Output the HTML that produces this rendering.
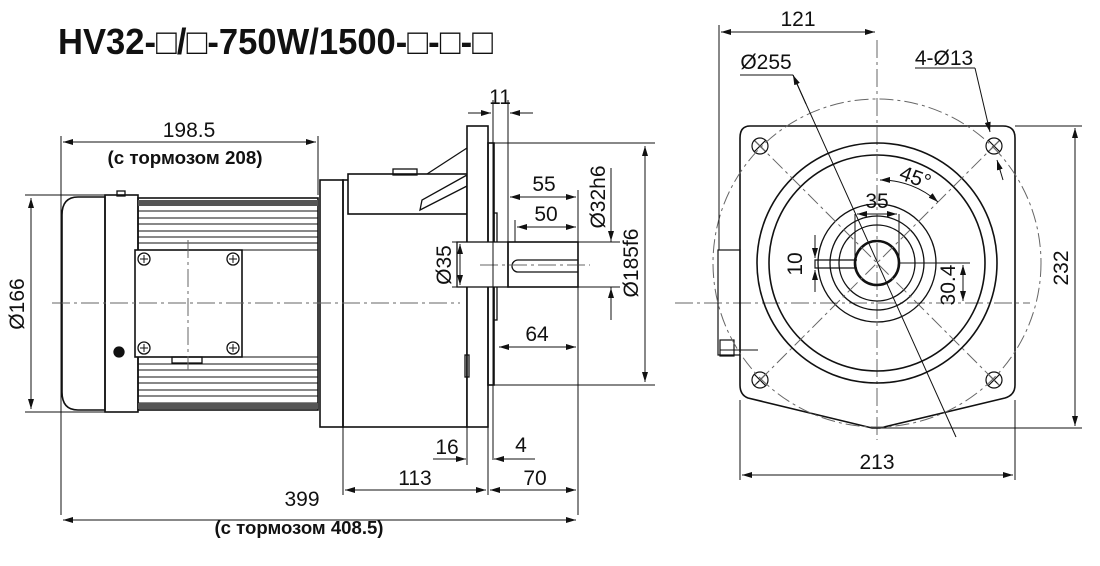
<!DOCTYPE html>
<html><head><meta charset="utf-8"><style>
html,body{margin:0;padding:0;background:#fff}
svg{display:block}
text{font-family:"Liberation Sans Narrow","Liberation Sans",Arial,sans-serif;fill:#111}
.t{font-size:21px}
.b{font-size:18px;font-weight:bold}
</style></head><body>
<svg width="1100" height="566" viewBox="0 0 1100 566" xmlns="http://www.w3.org/2000/svg">
<defs>
<marker id="a" viewBox="0 0 10 6" refX="10" refY="3" markerWidth="10" markerHeight="6" orient="auto-start-reverse" markerUnits="userSpaceOnUse"><path d="M0,0 L10,3 L0,6 z" fill="#111"/></marker>
</defs>
<text x="58" y="54" font-size="36" font-weight="bold" textLength="435" lengthAdjust="spacingAndGlyphs" style="font-family:'Liberation Sans',Arial,sans-serif">HV32-□/□-750W/1500-□-□-□</text>

<g stroke="#111" fill="none" stroke-width="1.3">
<path d="M105,197 L78,197 Q62,197 62,215 L62,392 Q62,410 78,410 L105,410 Z" stroke-width="1.6"/>
<rect x="105" y="195" width="33" height="217" stroke-width="1.6"/>
<rect x="117" y="191" width="8" height="5"/>
<rect x="138" y="198" width="180" height="212" stroke-width="1.6"/>
<g stroke-width="1">
<line x1="138" y1="205" x2="318" y2="205"/><line x1="138" y1="211" x2="318" y2="211"/><line x1="138" y1="218" x2="318" y2="218"/><line x1="138" y1="224" x2="318" y2="224"/><line x1="138" y1="231" x2="318" y2="231"/><line x1="138" y1="237" x2="318" y2="237"/><line x1="138" y1="243" x2="318" y2="243"/><line x1="138" y1="250" x2="318" y2="250"/>
<line x1="242" y1="357" x2="318" y2="357"/><line x1="138" y1="364" x2="318" y2="364"/><line x1="138" y1="370" x2="318" y2="370"/><line x1="138" y1="377" x2="318" y2="377"/><line x1="138" y1="383" x2="318" y2="383"/><line x1="138" y1="390" x2="318" y2="390"/><line x1="138" y1="396" x2="318" y2="396"/><line x1="138" y1="403" x2="318" y2="403"/>
</g>
<rect x="138" y="200" width="180" height="6" fill="#555" stroke="none"/>
<rect x="138" y="403" width="180" height="6" fill="#555" stroke="none"/>
<rect x="135" y="250" width="107" height="107" fill="#fff" stroke-width="1.6"/>
<rect x="172" y="357" width="30" height="6"/>
<circle cx="144" cy="259" r="6"/><circle cx="233" cy="259" r="6"/><circle cx="144" cy="348" r="6"/><circle cx="233" cy="348" r="6"/>
<path d="M140,259 h8 M144,255 v8 M229,259 h8 M233,255 v8 M140,348 h8 M144,344 v8 M229,348 h8 M233,344 v8" stroke-width="1"/>
<circle cx="119" cy="352" r="5" fill="#111"/>
<rect x="320" y="180" width="23" height="247" stroke-width="1.6"/>
<rect x="343" y="180" width="124" height="247" stroke-width="1.6"/>
<rect x="348" y="174" width="119" height="40" fill="#fff" stroke-width="1.6"/>
<rect x="393" y="169" width="24" height="6"/>
<line x1="427" y1="174" x2="467" y2="148"/>
<path d="M467,175 L422,200 L420,210 L467,186"/>
<rect x="467" y="126" width="21" height="301" stroke-width="1.6" fill="#fff"/>
<rect x="488" y="143" width="6" height="242" stroke-width="1.6"/>
<rect x="494" y="213" width="3" height="107"/>
<rect x="465" y="355" width="4" height="22"/>
<rect x="457" y="242" width="51" height="45" fill="#fff"/>
<rect x="508" y="242" width="70" height="45" stroke-width="1.6"/>
<path d="M578,260 L518,260 A6,6 0 0 0 518,272 L578,272"/>
</g>
<g stroke="#666" stroke-width="1" stroke-dasharray="18,4,3,4" fill="none">
<line x1="52" y1="303" x2="460" y2="303"/>
<line x1="188" y1="240" x2="188" y2="370"/>
<line x1="480" y1="265" x2="590" y2="265"/>
<line x1="675" y1="303" x2="1030" y2="303"/>
<line x1="877" y1="40" x2="877" y2="440"/>
</g>

<g stroke="#111" stroke-width="1" fill="none">
<line x1="61" y1="136" x2="61" y2="515"/>
<line x1="318" y1="136" x2="318" y2="195"/>
<line x1="63" y1="142" x2="316" y2="142" marker-start="url(#a)" marker-end="url(#a)"/>
<line x1="25" y1="195" x2="105" y2="195"/><line x1="25" y1="412" x2="105" y2="412"/>
<line x1="31" y1="198" x2="31" y2="409" marker-start="url(#a)" marker-end="url(#a)"/>
<line x1="493" y1="100" x2="493" y2="460"/><line x1="508" y1="100" x2="508" y2="242"/>
<line x1="468" y1="113" x2="491" y2="113" marker-end="url(#a)"/><line x1="533" y1="113" x2="510" y2="113" marker-end="url(#a)"/>
<line x1="578" y1="190" x2="578" y2="515"/><line x1="515" y1="220" x2="515" y2="242"/>
<line x1="510" y1="197" x2="576" y2="197" marker-start="url(#a)" marker-end="url(#a)"/>
<line x1="517" y1="227" x2="576" y2="227" marker-start="url(#a)" marker-end="url(#a)"/>
<line x1="499" y1="347" x2="576" y2="347" marker-start="url(#a)" marker-end="url(#a)"/>
<line x1="494" y1="143" x2="655" y2="143"/><line x1="494" y1="385" x2="655" y2="385"/>
<line x1="645" y1="146" x2="645" y2="382" marker-start="url(#a)" marker-end="url(#a)"/>
<line x1="578" y1="242" x2="620" y2="242"/><line x1="578" y1="287" x2="620" y2="287"/>
<line x1="611" y1="168" x2="611" y2="242" /><line x1="611" y1="225" x2="611" y2="241" marker-end="url(#a)"/>
<line x1="611" y1="320" x2="611" y2="287"/><line x1="611" y1="305" x2="611" y2="288" marker-end="url(#a)"/>
<line x1="452" y1="242" x2="457" y2="242"/><line x1="452" y1="287" x2="457" y2="287"/>
<line x1="460" y1="244" x2="460" y2="285" marker-start="url(#a)" marker-end="url(#a)"/>
<line x1="343" y1="427" x2="343" y2="495"/><line x1="467" y1="427" x2="467" y2="465"/><line x1="488" y1="427" x2="488" y2="495"/>
<line x1="433" y1="459" x2="466" y2="459" marker-end="url(#a)"/>
<line x1="535" y1="459" x2="494" y2="459" marker-end="url(#a)"/>
<line x1="345" y1="490" x2="486" y2="490" marker-start="url(#a)" marker-end="url(#a)"/>
<line x1="490" y1="490" x2="576" y2="490" marker-start="url(#a)" marker-end="url(#a)"/>
<line x1="63" y1="520" x2="576" y2="520" marker-start="url(#a)" marker-end="url(#a)"/>
</g>
<text class="t" x="189" y="137" text-anchor="middle">198.5</text>
<text class="b" x="185" y="164" text-anchor="middle" textLength="155" lengthAdjust="spacingAndGlyphs">(с тормозом 208)</text>
<text class="t" x="500" y="104" text-anchor="middle">11</text>
<text class="t" x="544" y="191" text-anchor="middle">55</text>
<text class="t" x="546" y="221" text-anchor="middle">50</text>
<text class="t" x="537" y="341" text-anchor="middle">64</text>
<text class="t" x="447" y="454" text-anchor="middle">16</text>
<text class="t" x="521" y="452" text-anchor="middle">4</text>
<text class="t" x="415" y="485" text-anchor="middle">113</text>
<text class="t" x="535" y="485" text-anchor="middle">70</text>
<text class="t" x="302" y="506" text-anchor="middle">399</text>
<text class="b" x="299" y="534" text-anchor="middle" textLength="169" lengthAdjust="spacingAndGlyphs">(с тормозом 408.5)</text>
<text class="t" transform="translate(24,304) rotate(-90)" text-anchor="middle">Ø166</text>
<text class="t" transform="translate(451,265) rotate(-90)" text-anchor="middle">Ø35</text>
<text class="t" transform="translate(605,197) rotate(-90)" text-anchor="middle">Ø32h6</text>
<text class="t" transform="translate(638,263) rotate(-90)" text-anchor="middle">Ø185f6</text>

<g stroke="#111" fill="none" stroke-width="1.6">
<path d="M750,126 L1003,126 Q1015,126 1015,138 L1015,385 Q1015,395 1005,398 L880,428 L872,428 L748,398 Q740,395 740,385 L740,138 Q740,126 750,126 Z"/>
<circle cx="877" cy="263" r="120"/>
<circle cx="877" cy="263" r="108"/>
<circle cx="877" cy="263" r="59" stroke-width="1.3"/>
<circle cx="877" cy="263" r="47" stroke-width="1.3"/>
<circle cx="877" cy="263" r="38" stroke-width="1.3"/>
<circle cx="877" cy="263" r="22" stroke-width="2.6"/>
<g stroke-width="1.2">
<circle cx="760" cy="146" r="8"/><circle cx="994" cy="146" r="8"/><circle cx="760" cy="380" r="8"/><circle cx="994" cy="380" r="8"/>
<path d="M754,140 l12,12 M766,140 l-12,12 M988,140 l12,12 M1000,140 l-12,12 M754,374 l12,12 M766,374 l-12,12 M988,374 l12,12 M1000,374 l-12,12"/>
</g>
<path d="M857,260 L815,260 L815,268 L857,268" stroke-width="1.2"/>
<rect x="718" y="250" width="22" height="105" stroke-width="1.2"/>
<rect x="720" y="340" width="14" height="16" stroke-width="1.2"/>
</g>
<g stroke="#666" stroke-width="1" stroke-dasharray="14,4,3,4" fill="none">
<circle cx="877" cy="263" r="164"/>
<line x1="755" y1="141" x2="999" y2="385"/>
<line x1="999" y1="141" x2="755" y2="385"/>
</g>
<g stroke="#111" stroke-width="1" fill="none">
<line x1="719" y1="25" x2="719" y2="250"/>
<line x1="721" y1="32" x2="875" y2="32" marker-start="url(#a)" marker-end="url(#a)"/>
<line x1="740" y1="75" x2="793" y2="75"/>
<line x1="793" y1="75" x2="956" y2="437"/>
<line x1="793" y1="75" x2="806" y2="104" marker-start="url(#a)"/>
<line x1="915" y1="68" x2="975" y2="68"/>
<line x1="975" y1="68" x2="990" y2="132" marker-end="url(#a)"/>
<line x1="1003" y1="180" x2="997" y2="160" marker-end="url(#a)"/>
<path d="M880,180 A86,86 0 0 1 938,202" marker-start="url(#a)" marker-end="url(#a)"/>
<line x1="855" y1="214" x2="855" y2="260"/><line x1="899" y1="214" x2="899" y2="260"/>
<line x1="857" y1="214" x2="897" y2="214" marker-start="url(#a)" marker-end="url(#a)"/>
<line x1="815" y1="235" x2="815" y2="258" marker-end="url(#a)"/>
<line x1="815" y1="292" x2="815" y2="270" marker-end="url(#a)"/>
<line x1="900" y1="263" x2="970" y2="263"/>
<line x1="963" y1="265" x2="963" y2="301" marker-start="url(#a)" marker-end="url(#a)"/>
<line x1="1015" y1="126" x2="1082" y2="126"/><line x1="880" y1="428" x2="1082" y2="428"/>
<line x1="1075" y1="128" x2="1075" y2="426" marker-start="url(#a)" marker-end="url(#a)"/>
<line x1="740" y1="400" x2="740" y2="480"/><line x1="1015" y1="400" x2="1015" y2="480"/>
<line x1="742" y1="475" x2="1013" y2="475" marker-start="url(#a)" marker-end="url(#a)"/>
<line x1="720" y1="350" x2="758" y2="350"/>
</g>
<text class="t" x="798" y="26" text-anchor="middle">121</text>
<text class="t" x="766" y="69" text-anchor="middle">Ø255</text>
<text class="t" x="944" y="65" text-anchor="middle">4-Ø13</text>
<text class="t" transform="translate(913,184) rotate(20)" text-anchor="middle">45°</text>
<text class="t" x="877" y="208" text-anchor="middle">35</text>
<text class="t" transform="translate(802,264) rotate(-90)" text-anchor="middle">10</text>
<text class="t" transform="translate(955,285) rotate(-90)" text-anchor="middle">30.4</text>
<text class="t" transform="translate(1068,268) rotate(-90)" text-anchor="middle">232</text>
<text class="t" x="877" y="469" text-anchor="middle">213</text>
</svg>
</body></html>
